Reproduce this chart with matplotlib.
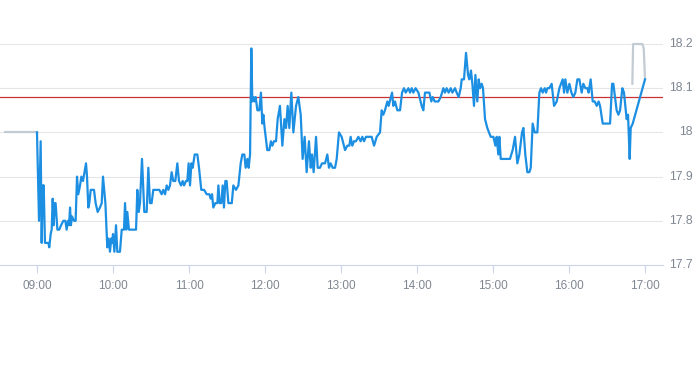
import numpy as np
import matplotlib.pyplot as plt
from matplotlib.transforms import blended_transform_factory

# minutes after 09:00 and price
session_t = [0, 1.6, 2.9, 3.7, 4.5, 5.0, 5.3, 6.3, 7.6, 9.0,
             9.7, 10.8, 11.6, 12.4, 13.2, 14.0, 14.7, 16.1, 17.6, 19.0,
             20.8, 22.4, 23.4, 24.5, 25.3, 26.1, 26.8, 27.6, 29.2, 30.5,
             31.6, 32.6, 34.0, 35.0, 36.3, 38.7, 39.5, 40.5, 41.3, 42.4,
             45.0, 46.3, 47.9, 49.7, 51.1, 52.1, 54.0, 55.5, 56.6, 57.6,
             58.7, 59.5, 60.0, 61.1, 62.4, 63.4, 65.5, 66.9, 68.7, 69.5,
             70.5, 71.3, 72.6, 78.2, 79.2, 80.3, 81.3, 82.9, 84.7, 86.6,
             87.9, 89.2, 90.5, 91.8, 96.6, 98.4, 99.7, 101.1, 102.4, 103.7,
             105.0, 106.3, 107.6, 109.2, 110.8, 112.1, 113.7, 115.0, 116.1, 117.6,
             118.7, 119.7, 120.8, 121.9, 122.9, 124.5, 126.6, 127.9, 129.7, 131.9,
             134.0, 136.1, 137.1, 138.2, 139.2, 140.8, 142.4, 143.2, 144.2, 145.5,
             146.6, 147.6, 148.7, 149.7, 151.1, 153.8, 155.0, 157.1, 159.0, 160.8,
             162.1, 163.7, 164.7, 166.1, 167.1, 168.2, 169.2, 170.0, 170.8, 171.6,
             172.6, 174.0, 175.5, 176.8, 177.9, 178.7, 179.7, 181.8, 183.4, 184.7,
             185.8, 187.1, 188.7, 190.0, 191.8, 193.7, 195.3, 196.6, 197.9, 199.2,
             200.8, 202.4, 204.5, 206.3, 208.2, 209.7, 211.3, 212.9, 214.7, 216.1,
             217.1, 218.4, 220.3, 221.6, 223.4, 225.0, 227.4, 229.2, 230.5, 231.8,
             233.4, 235.3, 236.6, 238.4, 240.5, 243.2, 245.0, 246.6, 247.6, 248.9,
             250.3, 251.8, 253.7, 255.5, 256.8, 258.2, 259.7, 261.6, 264.2, 266.1,
             268.2, 270.8, 272.1, 273.4, 274.7, 276.6, 277.6, 280.3, 281.3, 282.6,
             284.5, 286.6, 288.2, 289.7, 291.1, 293.2, 294.5, 295.8, 297.1, 298.9,
             301.1, 303.7, 305.0, 306.3, 309.8, 311.3, 312.4, 314.0, 316.9, 318.7,
             320.8, 322.1, 323.4, 325.0, 326.6, 327.9, 330.0, 331.3, 332.9, 334.5,
             335.3, 337.1, 338.7, 340.3, 341.3, 342.6, 343.7, 345.0, 346.1, 347.6,
             348.7, 349.8, 351.1, 352.1, 353.7, 355.5, 358.2, 360.3, 361.9, 362.9,
             364.2, 365.0, 366.1, 373.4, 375.5, 377.4, 379.2, 380.8, 382.9, 384.0,
             385.5, 387.1, 388.7, 389.8, 391.3, 392.9, 395.0, 396.6, 397.9, 399.2,
             400.8, 401.9, 402.9, 404.5, 406.3, 408.2, 410.3, 412.4, 413.7, 415.0,
             416.1, 417.1, 418.7, 420.3, 421.9, 423.4, 425.0, 426.6, 428.2, 430.0,
             431.3, 432.9, 434.5, 435.5, 437.1, 438.7, 440.3, 441.9, 443.4, 444.5,
             446.6, 452.4, 454.0, 455.0, 457.6, 459.0, 460.3, 462.1, 463.4, 465.5,
             466.6, 467.9, 468.7, 470.3, 480.0]
session_p = [18.00, 17.80, 17.98, 17.75, 17.88, 17.84, 17.88, 17.75, 17.75, 17.75,
             17.74, 17.77, 17.78, 17.85, 17.79, 17.84, 17.84, 17.78, 17.78, 17.79,
             17.80, 17.80, 17.78, 17.80, 17.79, 17.83, 17.79, 17.81, 17.80, 17.80,
             17.90, 17.86, 17.88, 17.90, 17.89, 17.93, 17.90, 17.83, 17.84, 17.87,
             17.87, 17.84, 17.82, 17.83, 17.84, 17.90, 17.84, 17.74, 17.76, 17.73,
             17.76, 17.75, 17.77, 17.73, 17.79, 17.73, 17.73, 17.78, 17.78, 17.84,
             17.78, 17.82, 17.78, 17.78, 17.87, 17.82, 17.84, 17.94, 17.82, 17.82,
             17.92, 17.84, 17.84, 17.87, 17.87, 17.86, 17.87, 17.86, 17.88, 17.87,
             17.88, 17.91, 17.89, 17.89, 17.93, 17.89, 17.88, 17.89, 17.88, 17.89,
             17.89, 17.93, 17.88, 17.93, 17.92, 17.95, 17.95, 17.92, 17.87, 17.87,
             17.86, 17.86, 17.85, 17.86, 17.83, 17.84, 17.84, 17.88, 17.84, 17.84,
             17.88, 17.83, 17.89, 17.89, 17.84, 17.84, 17.88, 17.87, 17.88, 17.93,
             17.95, 17.95, 17.92, 17.94, 17.92, 17.95, 18.19, 18.07, 18.08, 18.07,
             18.08, 18.05, 18.05, 18.09, 18.02, 18.04, 18.01, 17.96, 17.96, 17.98,
             17.97, 17.98, 17.98, 18.03, 18.06, 17.97, 18.03, 18.01, 18.06, 18.01,
             18.09, 18.00, 18.06, 18.08, 18.04, 17.94, 17.99, 17.91, 17.98, 17.92,
             17.95, 17.91, 17.99, 17.92, 17.92, 17.93, 17.93, 17.95, 17.92, 17.93,
             17.92, 17.92, 17.94, 18.00, 17.99, 17.96, 17.97, 17.97, 17.99, 17.97,
             17.98, 17.98, 17.99, 17.98, 17.99, 17.98, 17.99, 17.99, 17.99, 17.97,
             17.99, 18.00, 18.05, 18.04, 18.05, 18.07, 18.06, 18.09, 18.06, 18.07,
             18.05, 18.05, 18.09, 18.10, 18.09, 18.10, 18.09, 18.10, 18.09, 18.10,
             18.09, 18.06, 18.05, 18.09, 18.09, 18.07, 18.08, 18.07, 18.07, 18.08,
             18.10, 18.09, 18.10, 18.09, 18.10, 18.09, 18.10, 18.09, 18.08, 18.10,
             18.12, 18.12, 18.18, 18.13, 18.12, 18.14, 18.11, 18.06, 18.13, 18.07,
             18.12, 18.10, 18.11, 18.10, 18.03, 18.01, 17.99, 17.99, 17.97, 17.99,
             17.95, 17.99, 17.94, 17.94, 17.96, 17.99, 17.93, 17.95, 18.00, 18.01,
             17.95, 17.91, 17.91, 17.92, 18.02, 18.00, 18.00, 18.09, 18.10, 18.09,
             18.10, 18.09, 18.10, 18.10, 18.11, 18.06, 18.07, 18.10, 18.11, 18.12,
             18.09, 18.12, 18.09, 18.11, 18.09, 18.08, 18.09, 18.12, 18.12, 18.09,
             18.11, 18.10, 18.10, 18.09, 18.12, 18.07, 18.07, 18.06, 18.07, 18.06,
             18.02, 18.02, 18.11, 18.11, 18.05, 18.04, 18.05, 18.10, 18.09, 18.03,
             18.04, 17.94, 18.01, 18.02, 18.12]

pre_t = [-25.3, 0]
pre_p = [18.00, 18.00]
post_t = [470.0, 470.6, 477.9, 479.0, 480.0]
post_p = [18.11, 18.20, 18.20, 18.19, 18.12]

ref_price = 18.08
y_ticks = [17.7, 17.8, 17.9, 18.0, 18.1, 18.2]
y_labels = ['17.7', '17.8', '17.9', '18', '18.1', '18.2']
x_ticks = [0, 60, 120, 180, 240, 300, 360, 420, 480]
x_labels = ['09:00', '10:00', '11:00', '12:00', '13:00', '14:00', '15:00', '16:00', '17:00']

plt.rcParams['font.family'] = ['Liberation Sans', 'DejaVu Sans']

fig = plt.figure(figsize=(6.93, 3.65), dpi=100)
ax = fig.add_axes([0, 1 - 265 / 365, 663 / 693, 221 / 365])

for y in y_ticks[1:]:
    ax.axhline(y, color='#e6e6e6', lw=0.8, zorder=1)
ax.axhline(ref_price, color='#c83232', lw=0.9, zorder=2)

ax.plot(pre_t, pre_p, color='#c3cbd3', lw=1.6, zorder=3, clip_on=False)
ax.plot(post_t, post_p, color='#c3cbd3', lw=1.6, zorder=3, clip_on=False)
ax.plot(session_t, session_p, color='#1c8fe3', lw=1.6, zorder=4, clip_on=False,
        solid_joinstyle='round')

ax.set_xlim(-29.2, 494.2)
ax.set_ylim(17.7, 18.2)

for s in ['top', 'right', 'left']:
    ax.spines[s].set_visible(False)
ax.spines['bottom'].set_color('#ccd6eb')
ax.spines['bottom'].set_linewidth(0.8)

ax.set_xticks(x_ticks)
ax.set_xticklabels(x_labels)
ax.tick_params(axis='x', colors='#ccd6eb', length=6, width=0.8, pad=5,
               labelcolor='#7f8792', labelsize=8.5)
ax.set_yticks([])

tr = blended_transform_factory(fig.transFigure, ax.transData)
for y, lab in zip(y_ticks, y_labels):
    ax.text(1.0, y, lab, transform=tr, ha='right', va='center',
            color='#7f8792', fontsize=8.8, clip_on=False)

fig.savefig('out.png', dpi=100)
